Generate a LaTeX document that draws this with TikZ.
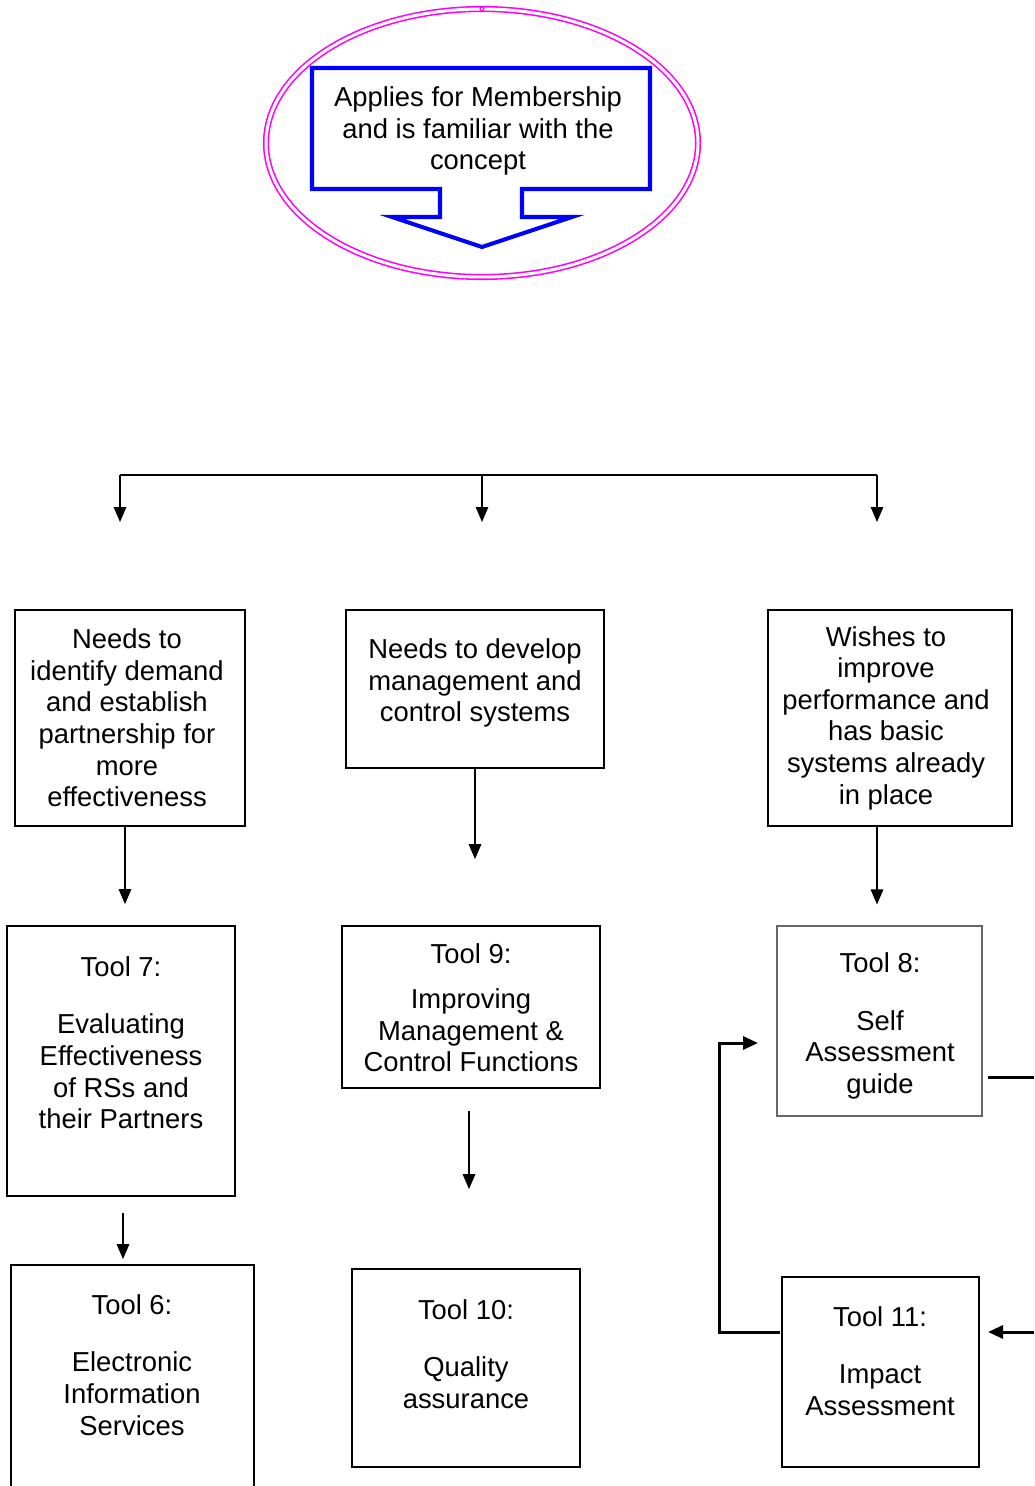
\documentclass[tikz,border=0pt]{standalone}
\usepackage{fontspec}
\setmainfont{Liberation Sans}
\usetikzlibrary{arrows.meta,fit}

\definecolor{ovalpink}{RGB}{255,0,255}
\definecolor{calloutblue}{RGB}{0,0,255}

\tikzset{
  box/.style={draw, line width=1pt, inner sep=0pt},
  softbox/.style={draw=black!60, line width=0.6pt, inner sep=0pt},
  txt/.style={align=center, inner sep=0pt, font=\fontsize{15.6}{18}\selectfont},
  arr/.style={line width=0.8pt, -{Triangle[width=0.25cm, length=0.3cm]}},
  loopline/.style={line width=1.7pt},
  looparr/.style={line width=1.7pt, -{Triangle[width=0.26cm, length=0.3cm]}}
}

\begin{document}
\begin{tikzpicture}[x=0.02cm, y=-0.02cm]
    \useasboundingbox (0, 0) rectangle (1034, 1486);

    %%ellipse
    \draw[ovalpink, line width=0.9pt, double, double distance=0.06cm] (482, 143) ellipse [x radius=216, y radius=134];
    \draw[ovalpink, line width=0.6pt] (482, 9) circle [radius=2];
    %%callout
    \draw[calloutblue, line width=2.3pt, line join=miter]
        (312, 68) -- (650, 68) -- (650, 189) -- (522, 189) -- (522, 217) -- (572, 217)
        -- (482, 247) -- (392, 217) -- (440, 217) -- (440, 189) -- (312, 189) -- cycle;
    \node[txt] (apply) at (478, 131){Applies for Membership\\and is familiar with the\\concept};

    %%branch
    \coordinate (brA) at (120, 475);
    \coordinate (brB) at (482, 475);
    \coordinate (brC) at (877, 475);
    \coordinate (tipA) at (120, 522);
    \coordinate (tipB) at (482, 522);
    \coordinate (tipC) at (877, 522);
        \draw[line width=0.8pt] (brA) -- (brC);
        \draw[arr] (brA) -- (tipA);
        \draw[arr] (brB) -- (tipB);
        \draw[arr] (brC) -- (tipC);

    %%needs
    \node[box, fit={(15, 610) (245, 826)}] (needA){};
    \node[txt] (needAtxt) at (127, 718){Needs to\\identify demand\\and establish\\partnership for\\more\\effectiveness};
    \node[box, fit={(346, 610) (604, 768)}] (needB){};
    \node[txt] (needBtxt) at (475, 683){Needs to develop\\management and\\control systems};
    \node[box, fit={(768, 610) (1012, 826)}] (needC){};
    \node[txt] (needCtxt) at (886, 718){Wishes to\\improve\\performance and\\has basic\\systems already\\in place};

    %%tools 7 9 8
    \node[box, fit={(7, 926) (235, 1196)}] (tool7){};
    \node[txt] (tool7txt) at (121, 1043){Tool 7:\\[0.51cm]Evaluating\\Effectiveness\\of RSs and\\their Partners};
    \node[box, fit={(342, 926) (600, 1088)}] (tool9){};
    \node[txt] (tool9txt) at (471, 1008){Tool 9:\\[0.27cm]Improving\\Management \&\\Control Functions};
    \node[softbox, fit={(777, 926) (982, 1116)}] (tool8){};
    \node[txt] (tool8txt) at (880, 1026){Tool 8:\\[0.51cm]Self\\Assessment\\guide};

        \draw[arr, shorten >=0.42cm] ([xshift=-0.1cm]needA.south) -- ([xshift=-0.1cm]needA.south |- tool7.north);
        \draw[arr, shorten >=1.32cm] (needB.south) -- (needB.south |- tool9.north);
        \draw[arr, shorten >=0.42cm] ([xshift=-0.05cm]needC.south -| tool8.north) -- ([xshift=-0.05cm]tool8.north);

    %%tools 6 10 11
    \node[box, fit={(11, 1265) (254, 1495)}] (tool6){};
    \node[txt] (tool6txt) at (132, 1365){Tool 6:\\[0.52cm]Electronic\\Information\\Services};
    \node[box, fit={(352, 1269) (580, 1467)}] (tool10){};
    \node[txt] (tool10txt) at (466, 1354){Tool 10:\\[0.51cm]Quality\\assurance};
    \node[box, fit={(782, 1277) (979, 1467)}] (tool11){};
    \node[txt] (tool11txt) at (880, 1361){Tool 11:\\[0.51cm]Impact\\Assessment};

        \draw[arr, shorten <=0.32cm, shorten >=0.1cm] ([xshift=0.04cm]tool7.south) -- ([xshift=0.04cm]tool7.south |- tool6.north);
        \draw[arr, shorten <=0.44cm, shorten >=1.58cm] ([xshift=-0.04cm]tool9.south) -- ([xshift=-0.04cm]tool9.south |- tool10.north);

    %%loop
    \coordinate (loopout) at (780, 1332);
    \coordinate (loopin) at (758, 1043);
    \coordinate (stubR) at (988, 1077);
    \coordinate (edgeR) at (1034, 1077);
    \coordinate (edgeIn) at (1034, 1332);
    \coordinate (tipIn) at (988, 1332);
        \draw[looparr] (loopout) -- ++(-61, 0) |- (loopin);
        \draw[loopline] (stubR) -- (edgeR);
        \draw[looparr] (edgeIn) -- (tipIn);

\end{tikzpicture}
\end{document}
